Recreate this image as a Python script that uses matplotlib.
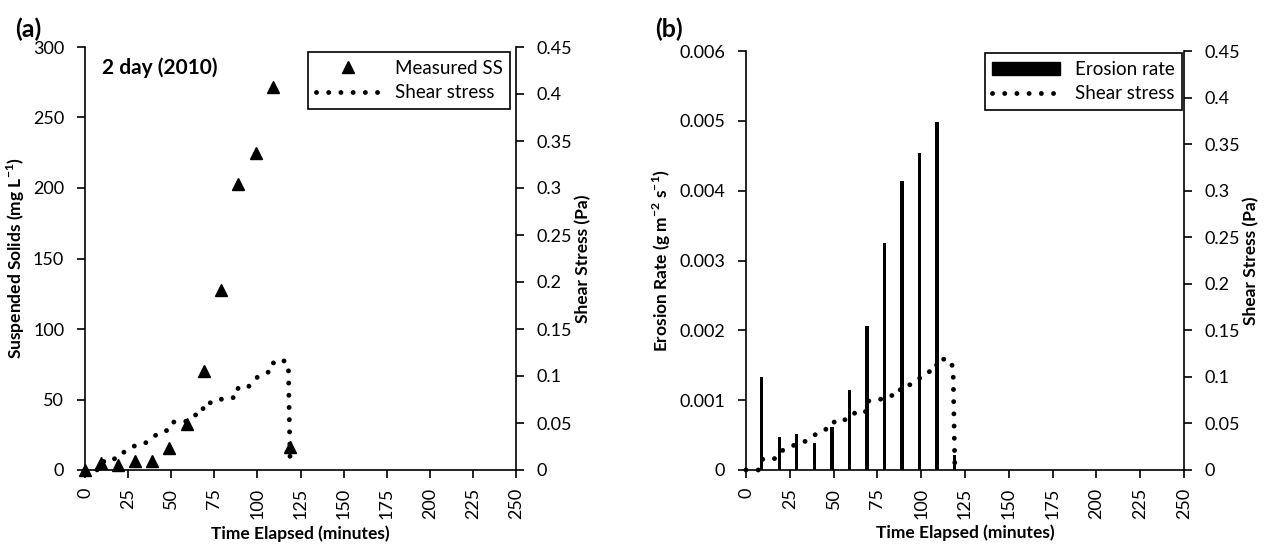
import numpy as np
import matplotlib
matplotlib.use("Agg")
from matplotlib import pyplot as plt
from matplotlib.patches import Patch
from matplotlib.lines import Line2D

plt.rcParams['font.family'] = ['Lato', 'DejaVu Sans']

# ---- panel (a): measured suspended solids + shear stress ----
ss_time = [0, 9, 19, 29, 39, 49, 59, 69, 79, 89, 99, 109, 119]
ss_vals = [0, 4.7, 3.5, 6.4, 6.4, 15.6, 32.5, 70, 127.6, 203, 224.5, 271.5, 16.5]

tau_a_time = [0, 7, 9, 16, 19, 24.5, 29, 34.5, 39, 43, 48.5, 51, 58, 62, 68, 69,
              76, 80.5, 87.5, 89, 95, 98.5, 103, 108.5, 109.5, 116.5, 118, 119]
tau_a_vals = [0, 0, 0.009, 0.009, 0.017, 0.020, 0.026, 0.028, 0.034, 0.040, 0.0425,
              0.051, 0.051, 0.058, 0.0595, 0.0715, 0.0715, 0.077, 0.077, 0.0885,
              0.089, 0.097, 0.102, 0.1055, 0.116, 0.116, 0.108, 0.005]

# ---- panel (b): erosion rate + shear stress ----
er_time = [9, 19, 29, 39, 49, 59, 69, 79, 89, 99, 109, 119]
er_vals = [0.00133, 0.00047, 0.00051, 0.00038, 0.00062, 0.00115, 0.00206,
           0.00325, 0.00414, 0.00454, 0.00498, 0.00022]

tau_b_time = [0, 7, 9, 16, 19, 24.4, 29, 34.3, 38.7, 42.9, 48.6, 51, 57.6, 61.6, 68,
              69.2, 75.7, 80.4, 86.7, 88.8, 95, 98.8, 102.4, 108.3, 109.3, 116, 118.2, 119.2]
tau_b_vals = [0, 0, 0.0115, 0.0115, 0.020, 0.023, 0.0286, 0.031, 0.0368, 0.0426,
              0.045, 0.054, 0.054, 0.061, 0.061, 0.074, 0.0748, 0.080, 0.080, 0.090,
              0.092, 0.098, 0.105, 0.1066, 0.119, 0.119, 0.110, 0.003]

x_ticks = np.arange(0, 251, 25)
tick_fs = 13
label_fs = 12.5
dot_style = dict(color='black', lw=3.5, linestyle=(0, (0.01, 2.5)),
                 dash_capstyle='round')
tri_style = dict(linestyle='none', marker='^', color='black', markersize=8.5)


def style_axes(ax, ax2):
    for a in (ax, ax2):
        a.spines['top'].set_visible(False)
        for s in ('left', 'right', 'bottom'):
            a.spines[s].set_linewidth(1.2)
    ax.spines['right'].set_visible(False)
    ax2.spines['left'].set_visible(False)
    ax2.spines['bottom'].set_visible(False)
    ax.set_xlim(0, 250)
    ax.set_xticks(x_ticks)
    ax.set_xticklabels([str(t) for t in x_ticks], rotation=90)
    ax.tick_params(axis='x', direction='out', length=6, width=1.2, pad=7, labelsize=tick_fs)
    ax.tick_params(axis='y', direction='out', length=6, width=1.2, pad=9, labelsize=tick_fs)
    ax2.tick_params(axis='y', direction='out', length=6, width=1.2, pad=9, labelsize=tick_fs)
    ax2.set_ylim(0, 0.45)
    ax2.set_yticks(np.arange(0, 0.451, 0.05))
    ax2.set_yticklabels(['0', '0.05', '0.1', '0.15', '0.2', '0.25', '0.3', '0.35', '0.4', '0.45'])
    ax.set_xlabel('Time Elapsed (minutes)', fontsize=label_fs, fontweight='bold')
    ax.xaxis.set_label_coords(0.5, -0.13)
    ax2.set_ylabel('Shear Stress (Pa)', fontsize=label_fs, fontweight='bold')


fig = plt.figure(figsize=(12.7, 5.46), dpi=100)

# panel (a)
axa = fig.add_axes([85 / 1270, 1 - 470 / 546, 431 / 1270, 423 / 546])
axa2 = axa.twinx()
axa.plot(ss_time, ss_vals, clip_on=False, **tri_style)
axa2.plot(tau_a_time, tau_a_vals, clip_on=False, **dot_style)
axa.set_ylim(0, 300)
axa.set_yticks(np.arange(0, 301, 50))
style_axes(axa, axa2)
axa.set_ylabel('Suspended Solids (mg L$^{\\mathregular{-1}}$)', fontsize=label_fs, fontweight='bold')
axa.yaxis.set_label_coords(-0.135, 0.5)
axa2.yaxis.set_label_coords(1.137, 0.5)
axa.text(9.9, 285, '2 day (2010)', fontsize=15, fontweight='bold', va='center', ha='left')
handles_a = [Line2D([], [], **tri_style), Line2D([], [], **dot_style)]
axa2.legend(handles_a, ['Measured SS', 'Shear stress'], loc='upper right',
            bbox_to_anchor=(0.986, 0.988), borderaxespad=0, fontsize=13.5,
            frameon=True, fancybox=False, edgecolor='black', framealpha=1,
            handlelength=3.4, labelspacing=0.4).get_frame().set_linewidth(1.2)

# panel (b)
axb = fig.add_axes([746 / 1270, 1 - 470 / 546, 438 / 1270, 419 / 546])
axb2 = axb.twinx()
axb.bar(er_time, er_vals, width=1.9, color='black')
axb2.plot(tau_b_time, tau_b_vals, clip_on=False, **dot_style)
axb.set_ylim(0, 0.006)
axb.set_yticks(np.arange(0, 0.0061, 0.001))
axb.set_yticklabels(['0', '0.001', '0.002', '0.003', '0.004', '0.005', '0.006'])
style_axes(axb, axb2)
axb.set_ylabel('Erosion Rate (g m$^{\\mathregular{-2}}$ s$^{\\mathregular{-1}}$)',
               fontsize=label_fs, fontweight='bold')
axb.yaxis.set_label_coords(-0.167, 0.5)
axb2.yaxis.set_label_coords(1.135, 0.5)
handles_b = [Patch(facecolor='black', edgecolor='black'), Line2D([], [], **dot_style)]
axb2.legend(handles_b, ['Erosion rate', 'Shear stress'], loc='upper right',
            bbox_to_anchor=(0.995, 0.9945), borderaxespad=0, fontsize=13.5,
            frameon=True, fancybox=False, edgecolor='black', framealpha=1,
            handlelength=3.6, labelspacing=0.4).get_frame().set_linewidth(1.2)

fig.text(15 / 1270, 1 - 29 / 546, '(a)', fontsize=18, fontweight='bold', va='center', ha='left')
fig.text(655 / 1270, 1 - 29 / 546, '(b)', fontsize=18, fontweight='bold', va='center', ha='left')

fig.savefig('out.png', dpi=100, facecolor='white')
